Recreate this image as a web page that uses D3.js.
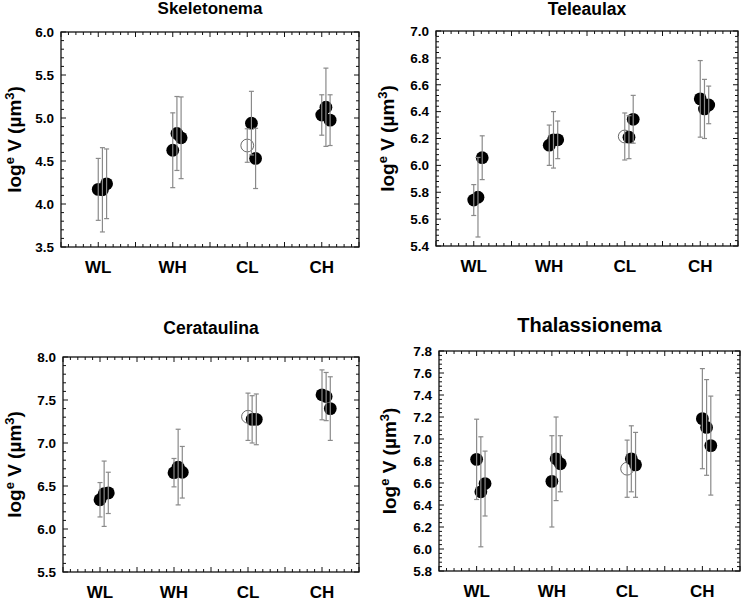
<!DOCTYPE html>
<html>
<head>
<meta charset="utf-8">
<script src="https://cdn.jsdelivr.net/npm/d3@7"></script>
<style>
  html, body { margin:0; padding:0; background:#fff; }
  svg { display:block; font-family:"Liberation Sans", Arial, sans-serif; }
  .frame { fill:none; stroke:#111; stroke-width:1.3; }
  .tick { stroke:#111; stroke-width:1; }
  .bar { stroke:#8a8a8a; stroke-width:1.2; }
</style>
</head>
<body>
<svg id="chart" width="745" height="602"></svg>
<script>
/* four-panel cell volume plot: 3 series per treatment, mean ± sd */

// --- data ---
const categories = ['WL', 'WH', 'CL', 'CH'];
const titles = ['Skeletonema', 'Teleaulax', 'Cerataulina', 'Thalassionema'];

// y axes: [min, max, major step, minor step]
const skelAxis = [3.5, 6.0, 0.5, 0.1];
const teleAxis = [5.4, 7.0, 0.2, 0.04];
const ceraAxis = [5.5, 8.0, 0.5, 0.1];
const thalAxis = [5.8, 7.8, 0.2, 0.04];

// means, one row per series (WL, WH, CL, CH)
const skelMean = [[4.17, 4.625, 4.68, 5.035], [4.165, 4.82, 4.94, 5.125], [4.235, 4.77, 4.53, 4.975]];
const skelErr  = [[0.36, 0.435, 0.195, 0.235], [0.49, 0.43, 0.37, 0.455], [0.405, 0.475, 0.35, 0.295]];

const teleMean = [[5.742, 6.15, 6.215, 6.495], [5.763, 6.19, 6.21, 6.42], [6.057, 6.19, 6.343, 6.45]];
const teleErr  = [[0.115, 0.15, 0.175, 0.285], [0.296, 0.21, 0.16, 0.22], [0.163, 0.14, 0.178, 0.14]];

const ceraMean = [[6.34, 6.655, 7.305, 7.56], [6.41, 6.72, 7.275, 7.54], [6.42, 6.66, 7.275, 7.40]];
const ceraErr  = [[0.2, 0.165, 0.275, 0.29], [0.38, 0.44, 0.275, 0.28], [0.24, 0.30, 0.295, 0.37]];

const thalMean = [[6.815, 6.615, 6.73, 7.185], [6.52, 6.82, 6.82, 7.105], [6.595, 6.775, 6.765, 6.94]];
const thalErr  = [[0.365, 0.415, 0.26, 0.455], [0.5, 0.38, 0.30, 0.435], [0.295, 0.255, 0.295, 0.45]];

// first series at CL is drawn hollow
const hollowSeries = 0;
const hollowCategory = 'CL';

// --- layout ---
const boxes = [
  { x0:61,  x1:359, y0:32,  y1:247, titleY:14,  titleSize:17,   labelX:21 },
  { x0:436, x1:738, y0:31,  y1:246, titleY:15,  titleSize:17.5, labelX:394 },
  { x0:63,  x1:359, y0:357, y1:572, titleY:334, titleSize:17.5, labelX:21 },
  { x0:439, x1:740, y0:351, y1:571, titleY:332, titleSize:20,   labelX:396 }
];
const seriesOffset = [0, 0.056, 0.112]; // in category units

const panels = [
  { axis:skelAxis, mean:skelMean, err:skelErr },
  { axis:teleAxis, mean:teleMean, err:teleErr },
  { axis:ceraAxis, mean:ceraMean, err:ceraErr },
  { axis:thalAxis, mean:thalMean, err:thalErr }
];

const svg = d3.select('#chart');

function ticksBetween(lo, hi, step){
  const n = Math.round((hi - lo) / step);
  return d3.range(n + 1).map(i => +(lo + i * step).toFixed(4));
}

panels.forEach((p, pi) => {
  const b = boxes[pi];
  const [ymin, ymax, ystep, yminor] = p.axis;
  const g = svg.append('g');

  const x = d3.scaleLinear().domain([0.5, 4.5]).range([b.x0, b.x1]);
  const y = d3.scaleLinear().domain([ymin, ymax]).range([b.y1, b.y0]);

  // ticks, pointing inward on all four sides
  const xMinor = ticksBetween(0.5, 4.5, 0.1);
  const xMajor = ticksBetween(0.5, 4.5, 0.5);
  const yMinorT = ticksBetween(ymin, ymax, yminor);
  const yMajorT = ticksBetween(ymin, ymax, ystep);

  const tg = g.append('g');
  const isMajor = (v, list) => list.some(m => Math.abs(m - v) < 1e-6);
  xMinor.forEach(v => {
    const len = isMajor(v, xMajor) ? 5 : 3;
    tg.append('line').attr('class','tick').attr('x1', x(v)).attr('x2', x(v)).attr('y1', b.y1).attr('y2', b.y1 - len);
    tg.append('line').attr('class','tick').attr('x1', x(v)).attr('x2', x(v)).attr('y1', b.y0).attr('y2', b.y0 + len);
  });
  yMinorT.forEach(v => {
    const len = isMajor(v, yMajorT) ? 5 : 3;
    tg.append('line').attr('class','tick').attr('y1', y(v)).attr('y2', y(v)).attr('x1', b.x0).attr('x2', b.x0 + len);
    tg.append('line').attr('class','tick').attr('y1', y(v)).attr('y2', y(v)).attr('x1', b.x1).attr('x2', b.x1 - len);
  });

  g.append('rect').attr('class','frame')
    .attr('x', b.x0).attr('y', b.y0).attr('width', b.x1 - b.x0).attr('height', b.y1 - b.y0);

  // y tick labels
  g.selectAll('text.ylab').data(yMajorT).join('text')
    .attr('class','ylab')
    .attr('x', b.x0 - 7).attr('y', d => y(d) + 4.8)
    .attr('text-anchor','end').attr('font-size', 13.5).attr('font-weight','bold')
    .text(d3.format('.1f'));

  // category labels
  g.selectAll('text.xlab').data(categories).join('text')
    .attr('class','xlab')
    .attr('x', (d, i) => x(i + 1)).attr('y', b.y1 + 26)
    .attr('text-anchor','middle').attr('font-size', 17).attr('font-weight','bold')
    .text(d => d);

  // title
  g.append('text')
    .attr('x', (b.x0 + b.x1) / 2).attr('y', b.titleY)
    .attr('text-anchor','middle').attr('font-size', b.titleSize).attr('font-weight','bold')
    .text(titles[pi]);

  // y axis label: log^e V (µm^3)
  const yl = g.append('text')
    .attr('transform', `translate(${b.labelX},${(b.y0 + b.y1) / 2}) rotate(-90)`)
    .attr('text-anchor','middle').attr('font-size', 19).attr('font-weight','bold');
  yl.append('tspan').text('log');
  yl.append('tspan').attr('font-size', 13).attr('dy', -7.5).text('e');
  yl.append('tspan').attr('dy', 7.5).text(' V (µm');
  yl.append('tspan').attr('font-size', 13).attr('dy', -7.5).text('3');
  yl.append('tspan').attr('dy', 7.5).text(')');

  // points, then error bars on top
  const pts = [];
  p.mean.forEach((row, si) => row.forEach((m, ci) => {
    pts.push({ s:si, c:ci, m:m, e:p.err[si][ci], cx:x(ci + 1 + seriesOffset[si]) });
  }));

  g.selectAll('circle.pt').data(pts).join('circle')
    .attr('class','pt')
    .attr('cx', d => d.cx).attr('cy', d => y(d.m)).attr('r', 6.4)
    .attr('fill', d => (d.s === hollowSeries && categories[d.c] === hollowCategory) ? '#fff' : '#000')
    .attr('stroke', d => (d.s === hollowSeries && categories[d.c] === hollowCategory) ? '#444' : 'none')
    .attr('stroke-width', 0.8);

  const bars = g.selectAll('g.eb').data(pts).join('g').attr('class','eb');
  bars.append('line').attr('class','bar')
    .attr('x1', d => d.cx).attr('x2', d => d.cx)
    .attr('y1', d => y(d.m + d.e)).attr('y2', d => y(d.m - d.e));
  bars.append('line').attr('class','bar')
    .attr('x1', d => d.cx - 2.5).attr('x2', d => d.cx + 2.5)
    .attr('y1', d => y(d.m + d.e)).attr('y2', d => y(d.m + d.e));
  bars.append('line').attr('class','bar')
    .attr('x1', d => d.cx - 2.5).attr('x2', d => d.cx + 2.5)
    .attr('y1', d => y(d.m - d.e)).attr('y2', d => y(d.m - d.e));
});
</script>
</body>
</html>
